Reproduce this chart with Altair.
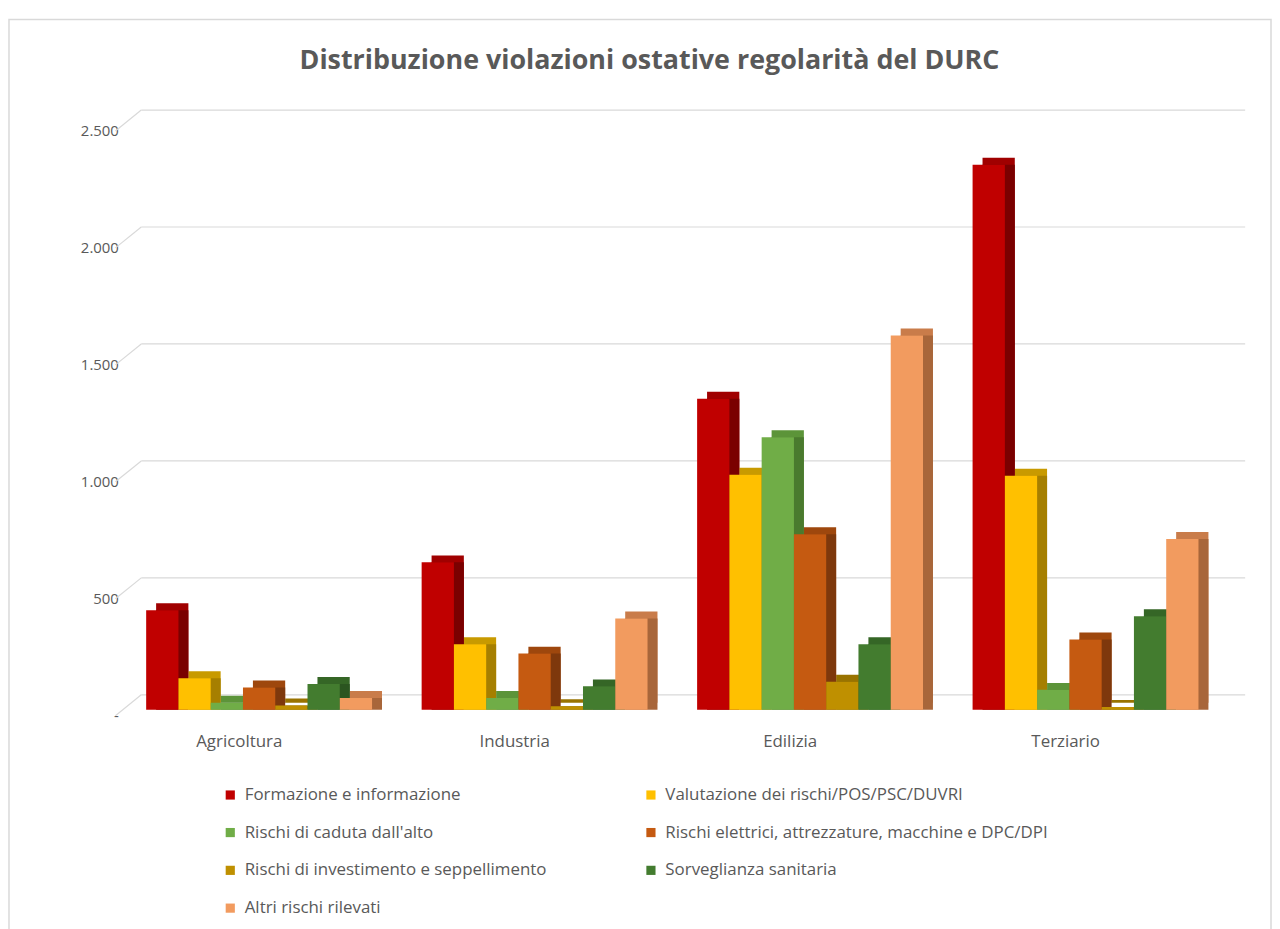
import altair as alt
import pandas as pd

# ---------------- data ----------------
categories = ["Agricoltura", "Industria", "Edilizia", "Terziario"]
series = [
    "Formazione e informazione",
    "Valutazione dei rischi/POS/PSC/DUVRI",
    "Rischi di caduta dall'alto",
    "Rischi elettrici, attrezzature, macchine e DPC/DPI",
    "Rischi di investimento e seppellimento",
    "Sorveglianza sanitaria",
    "Altri rischi rilevati",
]
formazione = [425, 630, 1330, 2330]
valutazione = [135, 280, 1005, 1000]
caduta = [30, 50, 1165, 85]
elettrici = [95, 240, 750, 300]
investimento = [18, 15, 120, 12]
sorveglianza = [110, 100, 280, 400]
altri = [50, 390, 1600, 730]
y_ticks = [0, 500, 1000, 1500, 2000, 2500]
title_text = "Distribuzione violazioni ostative regolarità del DURC"

front_colors = ["#C00000", "#FFC000", "#70AD47", "#C55A11", "#BF9000", "#437C2F", "#F29B5F"]
top_colors = ["#A00000", "#C89A00", "#5C9439", "#9E470D", "#997300", "#356626", "#C97C4A"]
side_colors = ["#7A0000", "#A67F00", "#4A7A2E", "#7E380C", "#776000", "#2B5520", "#A8663A"]

all_values = [formazione, valutazione, caduta, elettrici, investimento, sorveglianza, altri]
rows = []
for s, vals in zip(series, all_values):
    for c, v in zip(categories, vals):
        rows.append({"cat": c, "series": s, "value": v})
df = pd.DataFrame(rows)
ticks_df = pd.DataFrame({"tick": y_ticks})
title_df = pd.DataFrame({"t": [title_text]})

# ---------------- layout ----------------
W, H = 1108, 588
PI, PO = 0.18, 0.09
step = W / (len(categories) - PI + 2 * PO)
bw = step * (1 - PI)
DX, DY = 10, -7
FONT = "Open Sans"
GRAY = "#595959"

x_scale = alt.Scale(domain=categories, paddingInner=PI, paddingOuter=PO)
y_scale = alt.Scale(domain=[0, 2500], nice=False)
x_axis = alt.Axis(title=None, domain=False, ticks=False, labelFont=FONT, labelFontSize=17,
                  labelColor=GRAY, labelPadding=24, labelOffset=-20, labelAngle=0)
y_axis = alt.Axis(title=None, domain=False, ticks=False, grid=False, values=y_ticks,
                  labelFont=FONT, labelFontSize=15, labelColor=GRAY, labelPadding=3,
                  labelOffset=6,
                  labelExpr="datum.value == 0 ? '-' : replace(format(datum.value, ','), ',', '.')")

border = alt.Chart(title_df).mark_rect(fillOpacity=0, stroke="#d9d9d9", strokeWidth=1.5).encode(
    x=alt.value(-113), x2=alt.value(1156), y=alt.value(-106), y2=alt.value(830)
)

wall = alt.Chart(ticks_df).mark_rule(color="#d9d9d9", strokeWidth=1.2, yOffset=-15).encode(
    y=alt.Y("tick:Q", scale=y_scale, axis=y_axis),
    x=alt.value(20), x2=alt.value(1130),
)
slant = alt.Chart(ticks_df).mark_rule(color="#d9d9d9", strokeWidth=1.2, yOffset=6, y2Offset=-15).encode(
    y=alt.Y("tick:Q", scale=y_scale, axis=y_axis),
    y2="tick:Q",
    x=alt.value(-6), x2=alt.value(20),
)


def shifted_offset():
    return alt.XOffset("series:N", sort=series,
                       scale=alt.Scale(domain=series, range=[DX, bw + DX], paddingInner=0, paddingOuter=0))


top_face = alt.Chart(df).mark_bar(yOffset=DY, y2Offset=DY).encode(
    x=alt.X("cat:N", sort=categories, scale=x_scale, axis=x_axis),
    xOffset=shifted_offset(),
    y=alt.Y("value:Q", scale=y_scale, axis=y_axis),
    color=alt.Color("series:N", scale=alt.Scale(domain=series, range=top_colors), legend=None),
)

side_face = alt.Chart(df).mark_bar(yOffset=0, y2Offset=DY).encode(
    x=alt.X("cat:N", sort=categories, scale=x_scale, axis=x_axis),
    xOffset=shifted_offset(),
    y=alt.Y("value:Q", scale=y_scale, axis=y_axis),
    color=alt.Color("series:N", scale=alt.Scale(domain=series, range=side_colors), legend=None),
)

front = alt.Chart(df).mark_bar().encode(
    x=alt.X("cat:N", sort=categories, scale=x_scale, axis=x_axis),
    xOffset=alt.XOffset("series:N", sort=series,
                        scale=alt.Scale(domain=series, paddingInner=0, paddingOuter=0)),
    y=alt.Y("value:Q", scale=y_scale, axis=y_axis),
    color=alt.Color(
        "series:N",
        scale=alt.Scale(domain=series, range=front_colors),
        legend=alt.Legend(
            title=None, orient="none", legendX=101, legendY=665, columns=2, direction="horizontal",
            symbolType="square", symbolSize=85, symbolStrokeWidth=0,
            labelFont=FONT, labelFontSize=17, labelColor=GRAY, labelLimit=500,
            columnPadding=96, rowPadding=20, labelOffset=6, padding=0,
        ),
    ),
)

title = alt.Chart(title_df).mark_text(font=FONT, fontSize=27, fontWeight="bold", color=GRAY,
                                      align="center", baseline="middle").encode(
    text="t:N", x=alt.value(531), y=alt.value(-64)
)

chart = alt.layer(border, wall, slant, top_face, side_face, front, title).resolve_scale(
    xOffset="independent", color="independent"
).properties(
    width=W, height=H, padding={"left": 0, "top": 8, "right": 0, "bottom": 0}
).configure_view(stroke=None)

chart.save("out.html", embed_options={"renderer": "svg", "actions": False})
